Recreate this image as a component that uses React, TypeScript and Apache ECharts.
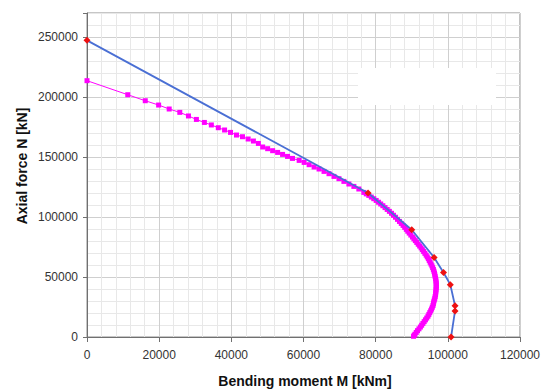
import React, { useEffect, useRef } from "react";
import * as echarts from "echarts";

// Blue line with red markers (computed interaction diagram)
const blueM = [0, 77900, 90000, 96200, 98800, 100700, 102000, 102000, 100900];
const blueN = [247200, 120000, 89400, 66300, 53800, 43600, 26100, 21700, 0];

// Magenta series
const magM = [
  0, 11300, 16150, 19850, 22780, 25720, 28120, 30320, 32530, 34460, 36390, 38130,
  39780, 41430, 43090, 44660, 46120, 47500, 48690, 50070, 51450, 52830, 54200,
  55580, 56960, 58800, 60180, 61560, 62940, 64310, 65690, 67070, 68450, 69830,
  71200, 72580, 73960, 75340, 76720, 77400, 78100, 78800, 79480, 80150, 80800,
  81400, 82000, 82600, 83200, 83800, 84400, 84950, 85500, 86050, 86600, 87100,
  87600, 88050, 88500, 88900, 89300, 89750, 90200, 90600, 91000, 91400, 91800,
  92200, 92600, 92950, 93300, 93650, 94000, 94300, 94600, 94850, 95100, 95350,
  95600, 95800, 96000, 96150, 96300, 96400, 96500, 96600, 96700, 96750, 96800,
  96800, 96800, 96750, 96700, 96650, 96600, 96500, 96400, 96250, 96100, 96000,
  95900, 95700, 95500, 95250, 95000, 94750, 94500, 94150, 93800, 93450, 93100,
  92750, 92400, 92000, 91600, 91250, 90900, 90700, 90500,
];
const magN = [
  213600, 201900, 196900, 193300, 190000, 187200, 184200, 181300, 178800, 176700,
  174400, 172500, 170500, 168300, 166900, 165000, 163300, 161300, 158330, 156920,
  155250, 153830, 152170, 150500, 148830, 147170, 145500, 143580, 141670, 140000,
  138000, 136080, 133830, 131920, 129670, 127500, 125500, 123330, 120500, 119250,
  118000, 116600, 115250, 113800, 112300, 110850, 109400, 107850, 106300, 104700,
  103100, 101450, 99800, 98050, 96300, 94650, 93000, 91350, 89700, 88150, 86600,
  84950, 83300, 81800, 80300, 78800, 77300, 75800, 74300, 72750, 71200, 69700,
  68200, 66750, 65300, 63800, 62300, 60800, 59300, 57800, 56300, 54800, 53300,
  51800, 50300, 48800, 47300, 45800, 44300, 42800, 41300, 39800, 38300, 36800,
  35300, 33800, 32300, 30800, 29300, 27800, 26300, 24800, 23300, 21800, 20300,
  18800, 17300, 15800, 14300, 12800, 11300, 9800, 8300, 6800, 5300, 3800, 2300,
  1400, 600,
];

const xMax = 120000;
const yMax = 270000;
const yLabelStep = 50000;

export default function App() {
  const ref = useRef<HTMLDivElement>(null);
  useEffect(() => {
    if (!ref.current) return;
    const chart = echarts.init(ref.current, undefined, { renderer: "svg" });
    const font = "'Liberation Sans', Arial, sans-serif";
    const gridPos = { left: 87, right: 21, top: 13, bottom: 52 };
    const majorCol = "#cfcfcf";
    const minorCol = "#e8e8e8";
    chart.setOption({
      animation: false,
      backgroundColor: "#ffffff",
      grid: [
        { ...gridPos, show: true, borderColor: "#8c8c8c", borderWidth: 1, backgroundColor: "transparent" },
        { ...gridPos, show: false },
      ],
      xAxis: [
        {
          type: "value",
          gridIndex: 0,
          min: 0,
          max: xMax,
          interval: 20000,
          axisLine: { show: true, lineStyle: { color: "#707070", width: 1 } },
          axisTick: { show: true, inside: false, length: 5, lineStyle: { color: "#707070" } },
          axisLabel: {
            color: "#333",
            fontSize: 12,
            fontFamily: font,
            margin: 12,
            formatter: (v: number) => String(v),
          },
          splitLine: { show: true, lineStyle: { color: majorCol, width: 1 } },
          minorTick: { show: false, splitNumber: 5 },
          minorSplitLine: { show: true, lineStyle: { color: minorCol, width: 1 } },
        },
        { type: "value", gridIndex: 1, min: 0, max: xMax, show: false },
      ],
      yAxis: [
        {
          type: "value",
          gridIndex: 0,
          min: 0,
          max: yMax,
          interval: 10000,
          axisLine: { show: true, lineStyle: { color: "#707070", width: 1 } },
          axisTick: { show: false },
          axisLabel: { show: false },
          splitLine: {
            show: true,
            lineStyle: { color: [majorCol, minorCol, minorCol, minorCol, minorCol], width: 1 },
          },
        },
        {
          type: "value",
          gridIndex: 1,
          min: 0,
          max: yMax,
          interval: yLabelStep,
          axisLine: { show: false },
          axisTick: { show: true, length: 4, lineStyle: { color: "#707070" } },
          axisLabel: {
            color: "#333",
            fontSize: 12,
            fontFamily: font,
            margin: 9,
            formatter: (v: number) => (v % yLabelStep === 0 ? String(v) : ""),
          },
          splitLine: { show: false },
        },
      ],
      series: [
        {
          type: "line",
          xAxisIndex: 0,
          yAxisIndex: 0,
          data: magM.map((m, i) => [m, magN[i]]),
          symbol: "rect",
          symbolSize: 5,
          showSymbol: true,
          lineStyle: { color: "#ff00ff", width: 1 },
          itemStyle: { color: "#ff00ff" },
          z: 3,
        },
        {
          type: "line",
          xAxisIndex: 0,
          yAxisIndex: 0,
          data: blueM.map((m, i) => [m, blueN[i]]),
          symbol: "diamond",
          symbolSize: 7,
          showSymbol: true,
          lineStyle: { color: "#4a6fd4", width: 1.8 },
          itemStyle: { color: "#ee1111" },
          z: 4,
        },
      ],
      graphic: [
        {
          type: "rect",
          shape: { x: 358, y: 68, width: 138, height: 37 },
          style: { fill: "#ffffff" },
          z: 10,
        },
        {
          type: "text",
          x: 22,
          y: 166,
          rotation: Math.PI / 2,
          style: {
            text: "Axial force N [kN]",
            font: `bold 14px ${font}`,
            fill: "#111",
            align: "center",
            verticalAlign: "middle",
          },
        },
        {
          type: "text",
          x: 305,
          y: 381,
          style: {
            text: "Bending moment M [kNm]",
            font: `bold 14px ${font}`,
            fill: "#111",
            align: "center",
            verticalAlign: "middle",
          },
        },
      ],
    });
    return () => chart.dispose();
  }, []);
  return <div ref={ref} style={{ width: 543, height: 389, position: "absolute", left: 0, top: 0 }} />;
}
